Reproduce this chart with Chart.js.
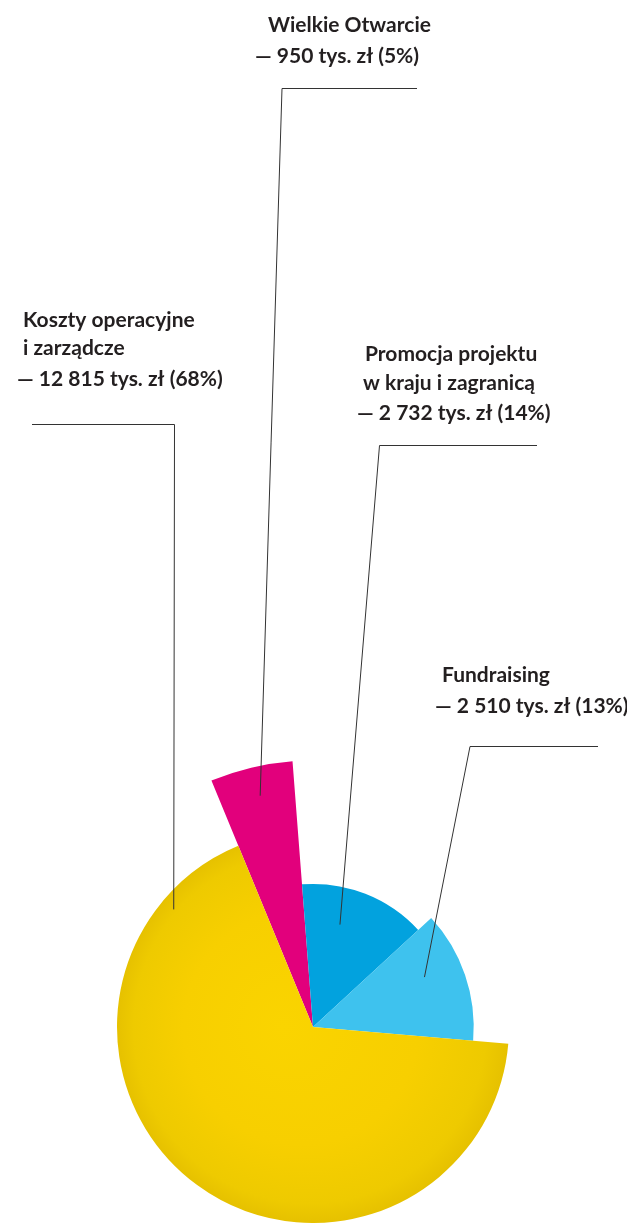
<!DOCTYPE html>
<html lang="pl">
<head>
<meta charset="utf-8">
<title>Struktura wydatków</title>
<script src="https://cdn.jsdelivr.net/npm/chart.js@4/dist/chart.umd.min.js"></script>
<style>
  html, body { margin: 0; padding: 0; background: #fff; }
  canvas { display: block; }
</style>
</head>
<body>
<canvas id="chart" width="627" height="1223"></canvas>
<script>
// slices in drawing order, clockwise from the top-left
const categories = ['Wielkie Otwarcie', 'Promocja projektu w kraju i zagranicą', 'Fundraising', 'Koszty operacyjne i zarządcze'];
const labelLines = [['Wielkie Otwarcie'], ['Promocja projektu', 'w kraju i zagranicą'], ['Fundraising'], ['Koszty operacyjne', 'i zarządcze']];
const amounts = [950, 2732, 2510, 12815];   // tys. zł
const shares = [5, 14, 13, 68];             // % as printed
const sliceRadius = [136, 73, 82, 100];     // relative radius of each slice
const colors = ['#E2007C', '#02A2DE', '#3EC2EE', '#F8D000'];

const total = amounts.reduce((a, b) => a + b, 0);
const sliceAngle = amounts.map(v => v / total * 360);

// where each callout sits: text lines (left x, baseline y), elbow of the leader,
// far end of the horizontal rule, and where the leader lands inside the slice
const callouts = [
  { x: [268, 255], y: [32, 63], elbow: [282, 88.5], end: 417, t: 0.53, depth: 0.89 },
  { x: [365, 363, 357], y: [361, 390, 420], elbow: [379.5, 445.5], end: 537, t: 0.37, depth: 0.74 },
  { x: [442, 435], y: [682, 713], elbow: [470, 746.5], end: 598, t: 0.39, depth: 0.76 },
  { x: [23, 23, 17], y: [327, 355, 386], elbow: [174.5, 424.5], end: 32, t: 0.887, depth: 0.93 },
];

const fmt = n => String(n).replace(/\B(?=(\d{3})+(?!\d))/g, ' ');

const calloutPlugin = {
  id: 'callouts',
  afterDatasetsDraw(chart) {
    const ctx = chart.ctx;
    const arcs = chart.getDatasetMeta(0).data;
    ctx.save();
    ctx.fillStyle = '#231f20';
    ctx.font = 'bold 21px Lato';
    ctx.textBaseline = 'alphabetic';
    ctx.textAlign = 'left';
    ctx.strokeStyle = '#333';
    ctx.lineWidth = 1;
    callouts.forEach((c, i) => {
      const lines = labelLines[i].concat(['— ' + fmt(amounts[i]) + ' tys. zł (' + shares[i] + '%)']);
      lines.forEach((txt, j) => ctx.fillText(txt, c.x[j], c.y[j]));

      const arc = arcs[i];
      const a = arc.startAngle + c.t * (arc.endAngle - arc.startAngle);
      const px = arc.x + Math.cos(a) * arc.outerRadius * c.depth;
      const py = arc.y + Math.sin(a) * arc.outerRadius * c.depth;
      ctx.beginPath();
      ctx.moveTo(c.end, c.elbow[1]);
      ctx.lineTo(c.elbow[0], c.elbow[1]);
      ctx.lineTo(px, py);
      ctx.stroke();
    });
    ctx.restore();
  }
};

new Chart(document.getElementById('chart'), {
  type: 'polarArea',
  data: {
    labels: categories,
    datasets: [{
      data: sliceRadius,
      angle: ctx => sliceAngle[ctx.dataIndex],
      backgroundColor: ctx => {
        if (ctx.dataIndex !== 3) return colors[ctx.dataIndex];
        const r = ctx.chart.scales.r;
        if (!r || !r.drawingArea) return colors[3];
        const R = r.getDistanceFromCenterForValue(sliceRadius[3]);
        const g = ctx.chart.ctx.createRadialGradient(r.xCenter - 30, r.yCenter, 0, r.xCenter, r.yCenter, R);
        g.addColorStop(0, '#FAD400');
        g.addColorStop(0.6, '#F7CF00');
        g.addColorStop(0.9, '#EECA00');
        g.addColorStop(1, '#E6C100');
        return g;
      },
      borderWidth: 0,
      clip: false
    }]
  },
  options: {
    responsive: false,
    animation: false,
    layout: { padding: { top: 831, bottom: 0, left: 0, right: 0 } },
    plugins: { legend: { display: false }, tooltip: { enabled: false } },
    scales: {
      r: { display: false, min: 0, max: 100, startAngle: -22.4 }
    }
  },
  plugins: [calloutPlugin]
});
</script>
</body>
</html>
